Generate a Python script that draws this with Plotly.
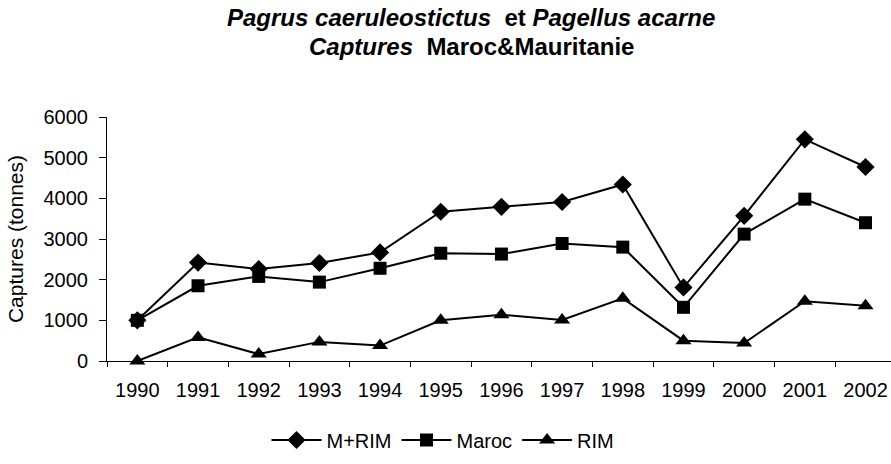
import plotly.graph_objects as go

years = ["1990", "1991", "1992", "1993", "1994", "1995", "1996",
         "1997", "1998", "1999", "2000", "2001", "2002"]
m_rim = [1000, 2420, 2260, 2410, 2670, 3670, 3790, 3910, 4340, 1810, 3570, 5450, 4770]
maroc = [1000, 1850, 2080, 1940, 2280, 2650, 2630, 2890, 2800, 1320, 3120, 3980, 3400]
rim = [0, 580, 170, 470, 380, 1000, 1140, 1010, 1540, 500, 440, 1470, 1360]

FONT = "Arial, Liberation Sans, sans-serif"

fig = go.Figure()
series = [("M+RIM", m_rim, "diamond", 14), ("Maroc", maroc, "square", 13), ("RIM", rim, "triangle-up", 14)]
for name, vals, sym, sz in series:
    fig.add_trace(go.Scatter(
        x=years, y=vals, name=name, mode="lines+markers",
        line=dict(color="black", width=2),
        marker=dict(symbol=sym, size=sz, color="black"),
        cliponaxis=False,
    ))

title_line1 = "<b><i>Pagrus caeruleostictus</i></b>&nbsp; <b>et</b> <b><i>Pagellus acarne</i></b>"
title_line2 = "<b><i>Captures</i></b>&nbsp; <b>Maroc&amp;Mauritanie</b>"

PLOT_TOP, PLOT_BOTTOM, PLOT_LEFT, PLOT_W = 117, 361, 107, 784

def ypaper(px):
    return (PLOT_BOTTOM - px) / (PLOT_BOTTOM - PLOT_TOP)

def xpaper(px):
    return (px - PLOT_LEFT) / PLOT_W

for txt, yc in [(title_line1, 18), (title_line2, 46)]:
    fig.add_annotation(
        text=txt, xref="paper", yref="paper",
        x=xpaper(471), y=ypaper(yc), xanchor="center", yanchor="middle",
        showarrow=False, font=dict(family=FONT, size=24, color="black"),
    )

fig.update_layout(
    width=891, height=464,
    margin=dict(l=107, r=0, t=117, b=103),
    paper_bgcolor="white", plot_bgcolor="white",
    font=dict(family=FONT, size=20, color="black"),
    showlegend=True,
    legend=dict(
        orientation="h", x=443 / 891, xref="container", xanchor="center",
        y=1 - 440 / 464, yref="container", yanchor="middle",
        font=dict(family=FONT, size=20, color="black"),
        itemwidth=50,
        bgcolor="rgba(0,0,0,0)",
    ),
)
fig.update_xaxes(
    type="category", range=[-0.5, 12.42],
    showline=True, linecolor="black", linewidth=1,
    ticks="outside", tickson="boundaries", ticklen=5, tickcolor="black",
    ticklabelstandoff=11,
    showgrid=False, zeroline=False,
    tickfont=dict(family=FONT, size=20, color="black"),
)
fig.update_yaxes(
    range=[0, 6000], tickvals=[0, 1000, 2000, 3000, 4000, 5000, 6000],
    showline=True, linecolor="black", linewidth=1,
    ticks="outside", ticklen=7, tickcolor="black",
    ticklabelstandoff=7,
    showgrid=False, zeroline=False,
    tickfont=dict(family=FONT, size=20, color="black"),
    title=dict(text="Captures (tonnes)", font=dict(family=FONT, size=21, color="black"), standoff=14),
)

fig.write_html("out.html", config={"displayModeBar": False},
               post_script="document.body.style.margin='0';")
